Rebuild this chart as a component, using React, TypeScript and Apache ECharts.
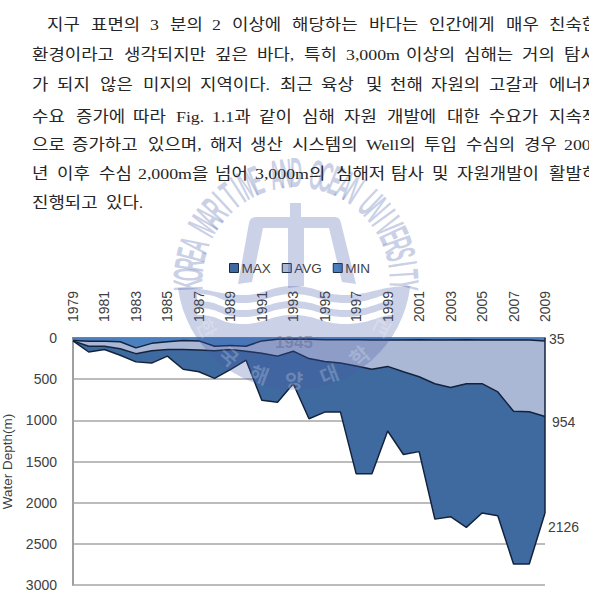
import React, { useEffect, useRef } from "react";
import * as echarts from "echarts";

const years = ["1979","1980","1981","1982","1983","1984","1985","1986","1987","1988","1989","1990","1991","1992","1993","1994","1995","1996","1997","1998","1999","2000","2001","2002","2003","2004","2005","2006","2007","2008","2009"];
const maxDepth = [35,170,140,210,290,305,220,380,410,490,385,270,755,780,555,980,900,900,1650,1650,1130,1415,1380,2200,2170,2300,2125,2160,2745,2745,2126];
const avgDepth = [35,100,100,130,190,155,140,140,145,155,140,160,185,220,160,250,285,305,340,380,345,410,470,555,600,555,555,655,890,895,954];
const minDepth = [30,40,40,45,120,65,45,30,35,100,90,100,35,15,15,15,20,20,20,25,25,25,20,25,25,20,25,25,25,25,35];

const paragraph: [number, [string, number][]][] = [
  [25, [["지구",47],["표면의",91],["3",150],["분의",170],["2",212],["이상에",232],["해당하는",292],["바다는",369],["인간에게",429],["매우",506],["친숙한",549]]],
  [55, [["환경이라고",32],["생각되지만",124],["깊은",215],["바다,",257],["특히",304],["3,000m",346],["이상의",406],["심해는",464],["거의",522],["탐사",564]]],
  [85, [["가",32],["되지",57],["않은",100],["미지의",143],["지역이다.",200],["최근",280],["육상",321],["및",366],["천해",390],["자원의",431],["고갈과",489],["에너지",549]]],
  [117, [["수요",32],["증가에",76],["따라",133],["Fig.",176],["1.1과",212],["같이",259],["심해",302],["자원",344],["개발에",387],["대한",447],["수요가",489],["지속적",549]]],
  [145, [["으로",32],["증가하고",72],["있으며,",148],["해저",210],["생산",250],["시스템의",292],["Well의",366],["투입",424],["수심의",466],["경우",524],["2000",564]]],
  [174, [["년",32],["이후",57],["수심",99],["2,000m을",138],["넘어",215],["3,000m의",255],["심해저",336],["탐사",391],["및",432],["자원개발이",457],["활발히",549]]],
  [203, [["진행되고",32],["있다.",106]]],
];

const ringText = "KOREA MARITIME AND OCEAN UNIVERSITY";
const hangulText = "한국해양대학교";
const yearMark = "1945";

const WM = "rgba(70,90,165,0.28)";

function topEdge(xl: number, y: number, xr: number, d: number) {
  return `C${xl + 25} ${y} 218 ${y + d} 243 ${y + d} C265 ${y + d} 270 ${y} 293 ${y} C316 ${y} 322 ${y + d} 345 ${y + d} C370 ${y + d} 380 ${y} ${xr} ${y}`;
}
function botEdgeReverse(xl: number, y: number, xr: number, d: number) {
  return `C380 ${y} 370 ${y + d} 345 ${y + d} C322 ${y + d} 316 ${y} 293 ${y} C270 ${y} 265 ${y + d} 243 ${y + d} C218 ${y + d} ${xl + 25} ${y} ${xl} ${y}`;
}
// a hole: wound against the outer outline
function stripe(y: number, h: number) {
  const xl = 197, xr = 392, d = 9;
  return `M${xr} ${y} ${botEdgeReverse(xl, y, xr, d)} L${xl} ${y + h} ${topEdge(xl, y + h, xr, d)} Z`;
}
const discPath =
  `M178 288 ${topEdge(178, 286, 410, 9)} L410 288 A117 117 0 0 1 178 288 Z ` +
  stripe(294, 7) + " " + stripe(308, 7);
const tridentPath =
  "M290 203 L301 203 L301 217 L335 217 Q340 217 341 223 L356 284 L342 282 L329 228 L304 228 L304 286 L288 288 L288 228 L263 228 L252 282 L238 284 L249 223 Q250 217 256 217 L290 217 Z";

echarts.graphic.registerShape("wmDisc", echarts.graphic.extendPath(discPath, {}));
echarts.graphic.registerShape("wmTrident", echarts.graphic.extendPath(tridentPath, {}));

function watermark() {
  const cx = 296, cy = 281, R = 108;
  const els: any[] = [
    { type: "wmDisc", x: 0, y: 0, z: 50, silent: true, style: { fill: WM } },
    { type: "wmTrident", x: 0, y: 0, z: 50, silent: true, style: { fill: WM } },
  ];
  const n = ringText.length;
  const a0 = -92, step = 184 / (n - 1);
  ringText.split("").forEach((ch, i) => {
    if (ch === " ") return;
    const th = ((a0 + step * i) * Math.PI) / 180;
    els.push({
      type: "text", z: 50, silent: true,
      x: cx + R * Math.sin(th), y: cy - R * Math.cos(th), rotation: -th, scaleX: 0.4,
      style: { text: ch, fill: WM, fontSize: 42, fontWeight: "bold", fontFamily: "Liberation Sans", textAlign: "center", textVerticalAlign: "middle" },
    });
  });
  hangulText.split("").forEach((ch, i) => {
    const th = ((-62 + 20.7 * i) * Math.PI) / 180;
    els.push({
      type: "text", z: 51, silent: true,
      x: 294 + 98 * Math.sin(th), y: 282 + 98 * Math.cos(th), rotation: th,
      style: { text: ch, fill: "rgba(255,255,255,0.22)", fontSize: 20, fontWeight: "bold", fontFamily: "Noto Sans CJK KR", textAlign: "center", textVerticalAlign: "middle" },
    });
  });
  els.push({
    type: "text", z: 51, silent: true, x: 294, y: 342,
    style: { text: yearMark, fill: "rgba(90,100,140,0.45)", fontSize: 17, fontWeight: "bold", fontFamily: "Liberation Sans", textAlign: "center", textVerticalAlign: "middle" },
  });
  return els;
}

function paragraphTexts() {
  const els: any[] = [];
  paragraph.forEach(([y, words]) =>
    words.forEach(([w, x]) =>
      els.push({
        type: "text", x, y, z: 60, silent: true, scaleX: 1.15,
        style: { text: w, fill: "#262626", fontSize: 15.5, fontFamily: "'Liberation Serif','Noto Sans CJK KR'", textVerticalAlign: "middle" },
      })
    )
  );
  return els;
}

const LINE = "#14233c";
const TEXT = "#404040";
const FONT = "'Liberation Sans', Arial, sans-serif";

function areaSeries(name: string, data: number[], color: string, z: number, labelOffset: number[]) {
  return {
    name, type: "line", data, z, symbol: "none", showSymbol: false, silent: true,
    itemStyle: { color },
    lineStyle: { color: LINE, width: 1.5 },
    areaStyle: { color, opacity: 1, origin: "start" },
    endLabel: { show: true, formatter: "{c}", color: TEXT, fontSize: 14, fontFamily: FONT, offset: labelOffset },
  };
}

export default function App() {
  const ref = useRef<HTMLDivElement>(null);
  useEffect(() => {
    document.body.style.margin = "0";
    document.body.style.background = "#fff";
    const chart = echarts.init(ref.current!, null, { renderer: "svg" });
    const lastYear = years[years.length - 1];
    const maxSeries: any = areaSeries("MAX", maxDepth, "#3f6aa0", 2, [-5, 14]);
    maxSeries.markLine = {
      silent: true, symbol: "none", animation: false, label: { show: false },
      lineStyle: { color: LINE, width: 1.5, type: "solid" },
      data: [[{ coord: [lastYear, 0] }, { coord: [lastYear, maxDepth[maxDepth.length - 1]] }]],
    };
    chart.setOption({
      animation: false,
      backgroundColor: "#fff",
      textStyle: { fontFamily: FONT },
      legend: {
        left: 229, top: 261, padding: 0, itemWidth: 9, itemHeight: 9, itemGap: 11, icon: "rect",
        selectedMode: false,
        data: ["MAX", "AVG", "MIN"],
        itemStyle: { borderColor: "#1a2a40", borderWidth: 1 },
        textStyle: { color: TEXT, fontSize: 13.5, fontFamily: FONT, padding: [0, 0, 0, -2] },
      },
      grid: { left: 73, right: 44, top: 338, height: 247, containLabel: false, outerBoundsMode: "none" },
      xAxis: {
        type: "category", data: years, boundaryGap: false, position: "top",
        axisTick: { show: false },
        axisLine: { show: true, lineStyle: { color: "#808080", width: 2 } },
        axisLabel: { rotate: 90, interval: 1, margin: 16, fontSize: 14, color: TEXT, fontFamily: FONT },
        splitLine: { show: false },
      },
      yAxis: {
        type: "value", inverse: true, min: 0, max: 3000, interval: 500,
        name: "Water Depth(m)", nameLocation: "middle", nameRotate: 90, nameGap: 58,
        nameTextStyle: { color: TEXT, fontSize: 13.5, fontFamily: FONT },
        axisTick: { show: false },
        axisLine: { show: true, lineStyle: { color: "#a0a0a0", width: 2 } },
        axisLabel: { margin: 16, fontSize: 14, color: TEXT, fontFamily: FONT, formatter: (v: number) => String(v) },
        splitLine: { show: true, lineStyle: { color: "#a6a6a6", width: 1.5 } },
      },
      series: [
        maxSeries,
        areaSeries("AVG", avgDepth, "#aab8d6", 3, [-1, 5]),
        areaSeries("MIN", minDepth, "#4a7fc0", 4, [-4, -2]),
      ],
      graphic: { elements: [...watermark(), ...paragraphTexts()] },
    });
    return () => chart.dispose();
  }, []);
  return <div ref={ref} style={{ width: 589, height: 596 }} />;
}
